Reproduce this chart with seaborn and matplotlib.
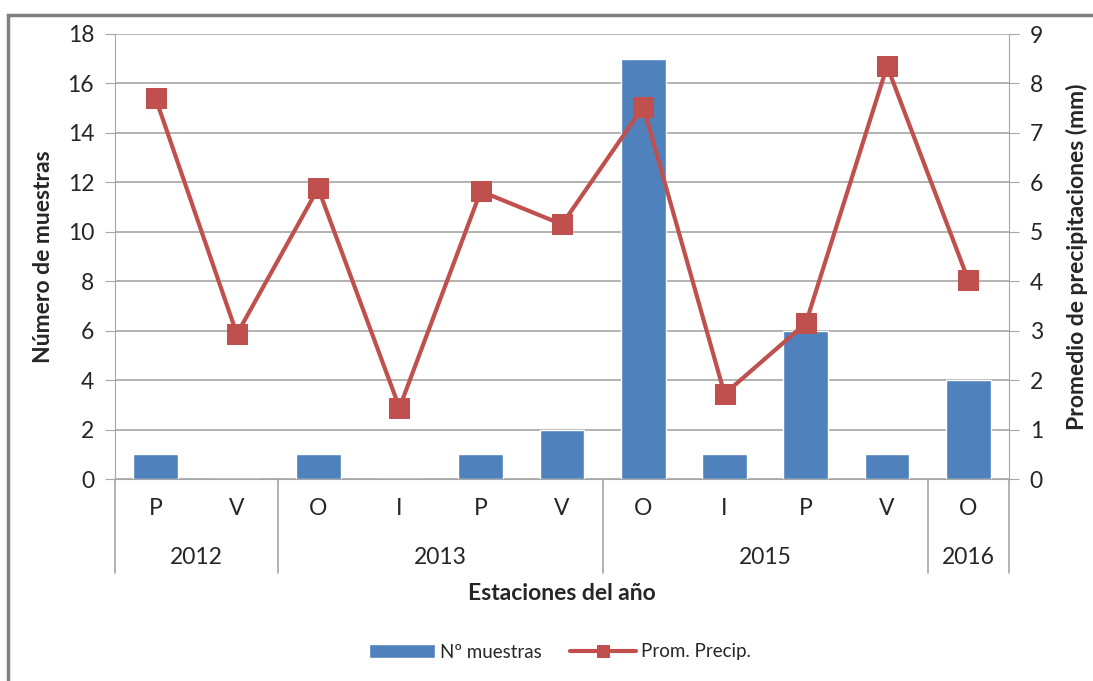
import matplotlib
matplotlib.use("Agg")
import matplotlib.pyplot as plt
import matplotlib.transforms as mtransforms
from matplotlib.patches import Rectangle
import seaborn as sns
import pandas as pd

estaciones = ["P", "V", "O", "I", "P", "V", "O", "I", "P", "V", "O"]
anos = ["2012", "2012", "2013", "2013", "2013", "2013", "2015", "2015", "2015", "2015", "2016"]
muestras = [1, 0, 1, 0, 1, 2, 17, 1, 6, 1, 4]
precip = [7.7, 2.93, 5.88, 1.44, 5.82, 5.15, 7.53, 1.72, 3.15, 8.35, 4.02]

azul = "#4F81BD"
rojo = "#C0504D"
gris = "#A6A6A6"

sns.set_style("white")
plt.rcParams["font.family"] = ["Lato", "DejaVu Sans"]

df = pd.DataFrame({
    "clave": [a + "-" + e + "-" + str(i) for i, (a, e) in enumerate(zip(anos, estaciones))],
    "muestras": muestras,
    "precip": precip,
})

fig = plt.figure(figsize=(10.93, 6.81), dpi=100)
ax = fig.add_axes([115 / 1093, 1 - 479 / 681, (1009 - 115) / 1093, (479 - 34) / 681])

sns.barplot(data=df, x="clave", y="muestras", color=azul, width=0.55,
            saturation=1, ax=ax, label="Nº muestras")
ax2 = ax.twinx()
sns.lineplot(data=df, x="clave", y="precip", color=rojo, lw=3, marker="s",
             markersize=14, markeredgecolor=rojo, ax=ax2, label="Prom. Precip.",
             sort=False)

ax.set_xlim(-0.5, len(estaciones) - 0.5)
ax.set_ylim(0, 18)
ax.set_yticks(range(0, 19, 2))
ax2.set_ylim(0, 9)
ax2.set_yticks(range(0, 10))

ax.yaxis.grid(True, color=gris, lw=1.2)
ax.set_axisbelow(True)
for a in (ax, ax2):
    for s in a.spines.values():
        s.set_visible(False)
ax.spines["left"].set_visible(True)
ax.spines["left"].set_color(gris)
ax.spines["bottom"].set_visible(True)
ax.spines["bottom"].set_color(gris)
ax2.spines["right"].set_visible(True)
ax2.spines["right"].set_color(gris)

ax.tick_params(axis="y", length=7, color=gris, labelsize=16.5, pad=8, left=True)
ax2.tick_params(axis="y", length=7, color=gris, labelsize=16.5, pad=8, right=True)
ax.set_xticks(range(len(estaciones)))
ax.set_xticklabels(estaciones, fontsize=16.5)
ax.tick_params(axis="x", length=0, pad=14)

ax.set_xlabel("Estaciones del año", fontsize=16.5, fontweight="bold", labelpad=46)
ax.set_ylabel("Número de muestras", fontsize=16.5, fontweight="bold", labelpad=10)
ax2.set_ylabel("Promedio de precipitaciones (mm)", fontsize=16.5, fontweight="bold", labelpad=16)
ax2.legend_.remove()

# separadores y etiquetas de años
trans = mtransforms.blended_transform_factory(ax.transData, ax.transAxes)
grupos = []
for i, a in enumerate(anos):
    if not grupos or grupos[-1][0] != a:
        grupos.append([a, i, i])
    else:
        grupos[-1][2] = i
for a, i0, i1 in grupos:
    ax.plot([i0 - 0.5, i0 - 0.5], [0, -0.211], transform=trans, color=gris, lw=1.2, clip_on=False)
    ax.text((i0 + i1) / 2, -0.176, a, transform=trans, ha="center", va="center", fontsize=16.5)
ax.plot([len(anos) - 0.5] * 2, [0, -0.211], transform=trans, color=gris, lw=1.2, clip_on=False)

h1, l1 = ax.get_legend_handles_labels()
h2, l2 = ax2.get_legend_handles_labels()
if ax.legend_:
    ax.legend_.remove()
leg = fig.legend(h1 + h2, l1 + l2, loc="center", bbox_to_anchor=(560 / 1093, 1 - 652 / 681),
                 ncol=2, frameon=False, fontsize=13.5, handlelength=3.5, columnspacing=1.5,
                 handletextpad=0.3)
leg.legend_handles[1].set_markersize(8)

fig.patches.append(Rectangle((8 / 1093, -0.1), 1.2, 1.1 - 15 / 681, transform=fig.transFigure,
                             fill=False, edgecolor="#808080", lw=2.5))

fig.savefig("out.png", dpi=100)
